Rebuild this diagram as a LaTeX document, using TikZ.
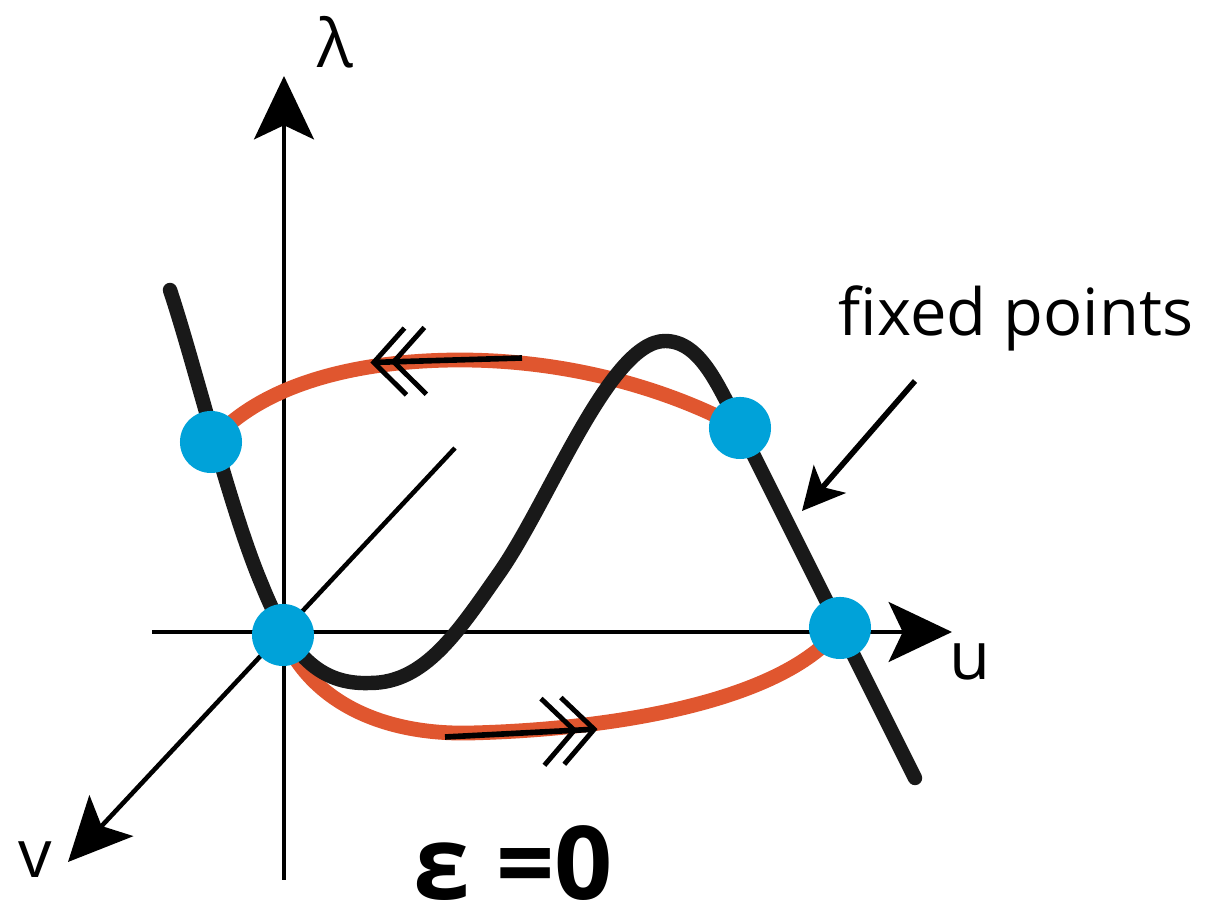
\documentclass[tikz,border=0pt]{standalone}
\usepackage{fontspec}
\setmainfont{Open Sans}
\usetikzlibrary{arrows.meta}
\definecolor{orng}{HTML}{E0562F}
\definecolor{dotblue}{HTML}{00A2D9}
\begin{document}
\begin{tikzpicture}[x=0.01cm,y=-0.01cm,
  axis/.style={line width=1.3pt,-{Stealth[length=18pt,width=17pt,inset=4pt]}},
  curve/.style={line width=4.1pt,line cap=round,black!90},
  orbit/.style={line width=4.2pt,orng},
  fp/.style={circle,fill=dotblue,minimum size=0.62cm,inner sep=0pt},
  dblarrow/.style={line width=1.6pt,-{Straight Barb[length=9pt,width=19pt,line width=1.4pt,sep=-5pt]Straight Barb[length=9pt,width=19pt,line width=1.4pt,sep=-5pt]}},
  lbl/.style={font=\fontsize{19}{22}\selectfont},
  pointer/.style={line width=1.6pt,-{Stealth[length=12pt,width=12pt,inset=3pt]}}
]
\useasboundingbox (0,0) rectangle (1208,916);
% axes
\coordinate (O) at (284,632);
\coordinate (ybot) at (284,880);
\coordinate (ytop) at (284,76);
\coordinate (xl) at (152,632);
\coordinate (xr) at (952,632);
\coordinate (vb) at (455,448);
\coordinate (vt) at (68,862);
\draw[axis] (ybot) -- (ytop);
\draw[axis] (xl) -- (xr);
\draw[axis] (vb) -- (vt);
\node[lbl] (lam) at (335,42) {λ};
\node[lbl] (ul) at (970,662) {u};
\node[lbl] (vl) at (35,860) {v};
% orbit (orange)
\draw[orbit] (211,442) .. controls (270,375) and (380,360) .. (460,360) .. controls (580,360) and (680,395) .. (740,428);
\draw[orbit] (283,635) .. controls (310,700) and (380,735) .. (470,733) .. controls (600,730) and (780,705) .. (840,628);
% nullcline (black)
\draw[curve] (170,290) .. controls (195,365) and (230,510) .. (262,585)
  .. controls (290,655) and (320,685) .. (370,683)
  .. controls (425,683) and (458,632) .. (500,572)
  .. controls (550,500) and (610,341) .. (665,341)
  .. controls (700,341) and (718,385) .. (740,428)
  -- (915,778);
% double arrows
\coordinate (a1s) at (522,358);
\coordinate (a1e) at (388,362);
\coordinate (a2s) at (445,737);
\coordinate (a2e) at (580,730);
\draw[dblarrow] (a1s) -- (a1e);
\draw[dblarrow] (a2s) -- (a2e);
% fixed points
\node[fp] (p1) at (211,442) {};
\node[fp] (p2) at (283,635) {};
\node[fp] (p3) at (740,428) {};
\node[fp] (p4) at (840,628) {};
% label and pointer
\node[font=\fontsize{18.5}{22}\selectfont] (fpl) at (1016,318) {fixed points};
\coordinate (ps) at (915,381);
\coordinate (pe) at (802,511);
\draw[pointer] (ps) -- (pe);
\node[font=\bfseries\fontsize{29}{34}\selectfont,anchor=base,inner sep=0pt] (eps) at (513,900) {ε =0};
\end{tikzpicture}
\end{document}
